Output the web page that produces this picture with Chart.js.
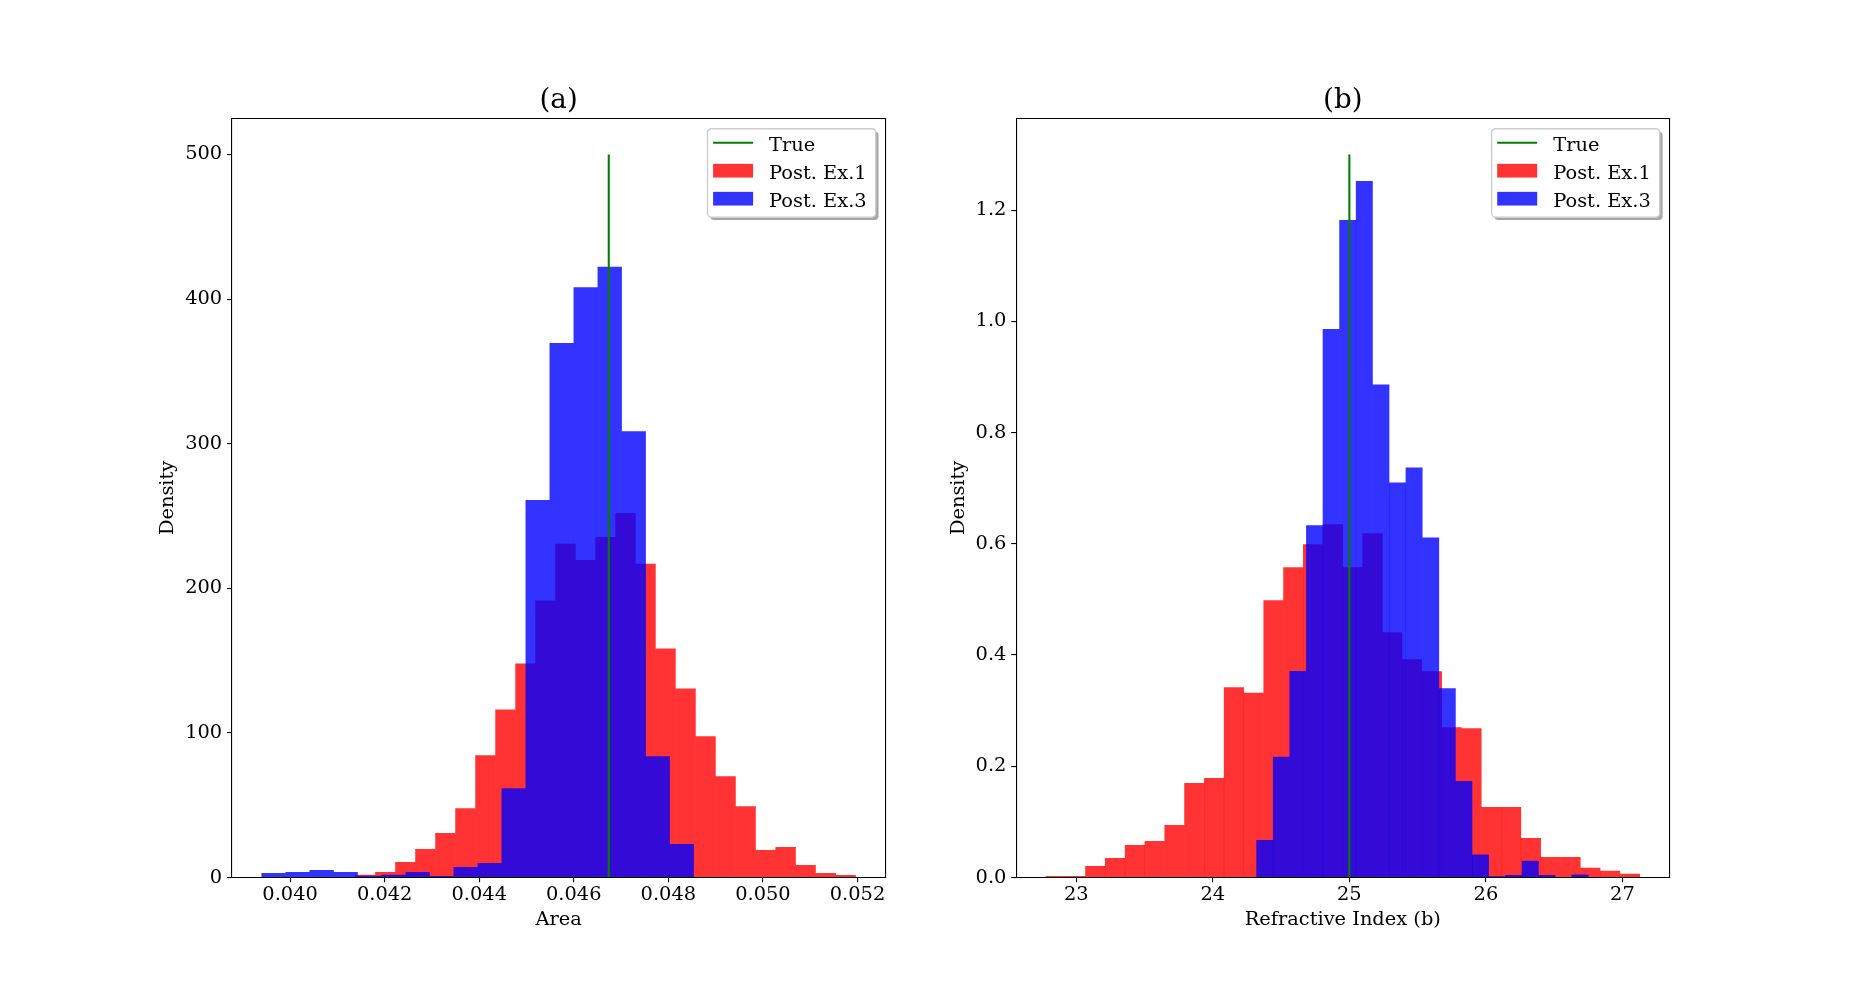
<!DOCTYPE html>
<html>
<head>
<meta charset="utf-8">
<script src="https://cdn.jsdelivr.net/npm/chart.js@4.4.0/dist/chart.umd.min.js"></script>
<style>
html, body { margin: 0; padding: 0; background: #ffffff; }
body { width: 1855px; height: 986px; position: relative; overflow: hidden; }
canvas { position: absolute; top: 0; }
#panelA { left: 0; }
#panelB { left: 900px; }
</style>
</head>
<body>
<canvas id="panelA" width="900" height="986"></canvas>
<canvas id="panelB" width="955" height="986"></canvas>
<script>
// ---------------- data ----------------
const seriesLabels = ['True', 'Post. Ex.1', 'Post. Ex.3'];
const panelTitles = ['(a)', '(b)'];
const xAxisTitles = ['Area', 'Refractive Index (b)'];
const yAxisTitle = 'Density';

// panel (a): Area
const areaTickLabels = ['0.040', '0.042', '0.044', '0.046', '0.048', '0.050', '0.052'];
const areaDensityTickLabels = ['0', '100', '200', '300', '400', '500'];
const areaEx1Edges = [0.0413800, 0.0418033, 0.0422266, 0.0426499, 0.0430732, 0.0434965, 0.0439198,
  0.0443431, 0.0447664, 0.0451897, 0.0456130, 0.0460363, 0.0464596, 0.0468829, 0.0473062,
  0.0477295, 0.0481528, 0.0485761, 0.0489994, 0.0494227, 0.0498460, 0.0502693, 0.0506926,
  0.0511159, 0.0515392, 0.0519625];
const areaEx1Density = [1.8, 3.7, 10.6, 19.6, 30.6, 47.8, 84.4, 116, 147.8, 191.5, 230.6, 219.5,
  235.4, 252, 216.8, 158.2, 130.6, 97.5, 69.9, 49.2, 18.9, 20.9, 8.5, 3.0, 1.6];
const areaEx3Edges = [0.0393970, 0.0399048, 0.0404126, 0.0409204, 0.0414282, 0.0419360, 0.0424438,
  0.0429516, 0.0434594, 0.0439672, 0.0444750, 0.0449828, 0.0454906, 0.0459984, 0.0465062,
  0.0470140, 0.0475218, 0.0480296, 0.0485374];
const areaEx3Density = [3.0, 3.7, 5.1, 3.7, 1.1, 1.8, 3.7, 0.9, 7.1, 9.9, 61.6, 260.9, 369.5,
  408, 422.3, 308.4, 83.7, 23];
const areaTrue = 0.04674;
const areaTrueTop = 500;

// panel (b): Refractive Index (b)
const refrTickLabels = ['23', '24', '25', '26', '27'];
const refrDensityTickLabels = ['0.0', '0.2', '0.4', '0.6', '0.8', '1.0', '1.2'];
const refrEx1Edges = [22.777, 22.922, 23.067, 23.212, 23.357, 23.502, 23.647, 23.792, 23.937,
  24.082, 24.227, 24.372, 24.517, 24.662, 24.807, 24.952, 25.097, 25.242, 25.387, 25.532,
  25.677, 25.822, 25.967, 26.112, 26.257, 26.402, 26.547, 26.692, 26.837, 26.982, 27.127];
const refrEx1Density = [0.0024, 0.0024, 0.0204, 0.0347, 0.058, 0.0653, 0.094, 0.1695, 0.1784,
  0.3419, 0.3317, 0.4982, 0.5575, 0.5988, 0.6347, 0.5575, 0.6186, 0.4407, 0.3922, 0.3707,
  0.270, 0.268, 0.1263, 0.1263, 0.0707, 0.0365, 0.0365, 0.0174, 0.012, 0.0066];
const refrEx3Edges = [24.3198, 24.4413, 24.5628, 24.6843, 24.8058, 24.9273, 25.0488, 25.1703,
  25.2918, 25.4133, 25.5348, 25.6563, 25.7778, 25.8993, 26.0208, 26.1423, 26.2638, 26.3853,
  26.5068, 26.6283, 26.7498];
const refrEx3Density = [0.067, 0.217, 0.371, 0.633, 0.986, 1.182, 1.252, 0.886, 0.710, 0.737,
  0.611, 0.340, 0.173, 0.041, 0.002, 0.004, 0.030, 0.004, 0, 0.005];
const refrTrue = 25.0;
const refrTrueTop = 1.3;

// ---------------- styling / layout ----------------
const FONT = "'DejaVu Serif', serif";
const FS = 19.4;
Chart.defaults.font.family = FONT;
Chart.defaults.color = '#000';

function binPoints(edges, values) {
  return values.map((v, i) => ({ x: (edges[i] + edges[i + 1]) / 2, y: v }));
}

// bar thickness = one bin width, measured through the dataset's own x scale
function binThickness(edges) {
  return ctx => {
    const chart = ctx.chart;
    const meta = chart.getDatasetMeta(ctx.datasetIndex);
    const sc = meta && meta.xScale;
    if (!sc || !isFinite(sc.getPixelForValue(edges[0]))) return undefined;
    return Math.abs(sc.getPixelForValue(edges[1]) - sc.getPixelForValue(edges[0]));
  };
}

function roundRectPath(ctx, x, y, w, h, r) {
  ctx.beginPath();
  ctx.moveTo(x + r, y);
  ctx.arcTo(x + w, y, x + w, y + h, r);
  ctx.arcTo(x + w, y + h, x, y + h, r);
  ctx.arcTo(x, y + h, x, y, r);
  ctx.arcTo(x, y, x + w, y, r);
  ctx.closePath();
}

const mplLegend = {
  id: 'mplLegend',
  afterDraw(chart) {
    const ctx = chart.ctx, ca = chart.chartArea;
    const ds = chart.data.datasets;
    ctx.save();
    ctx.font = FS + 'px ' + FONT;
    const maxW = Math.max(...ds.map(d => ctx.measureText(d.label).width));
    const right = ca.right - 9.7, top = ca.top + 10.4;
    const w = 61.6 + maxW + 9, h = 88.5, left = right - w;
    roundRectPath(ctx, left + 2.78, top + 2.78, w, h, 3.9);
    ctx.fillStyle = 'rgba(77,77,77,0.5)';
    ctx.fill();
    roundRectPath(ctx, left, top, w, h, 3.9);
    ctx.fillStyle = '#ffffff';
    ctx.fill();
    ctx.lineWidth = 1.39;
    ctx.strokeStyle = '#cccccc';
    ctx.stroke();
    ds.forEach((d, k) => {
      const cy = top + 14 + 28 * k;
      const hx = left + 5.6;
      if (d.type === 'line') {
        ctx.beginPath();
        ctx.moveTo(hx, cy);
        ctx.lineTo(hx + 40, cy);
        ctx.strokeStyle = d.borderColor;
        ctx.lineWidth = d.borderWidth;
        ctx.stroke();
      } else {
        ctx.fillStyle = d.backgroundColor;
        ctx.fillRect(hx, cy - 6.85, 40, 13.7);
      }
      ctx.fillStyle = '#000';
      ctx.textBaseline = 'alphabetic';
      ctx.textAlign = 'left';
      ctx.fillText(d.label, left + 61.6, cy + 7.9);
    });
    ctx.restore();
  }
};

function makePanel(id, d, g) {
  const fixTicks = labels => scale => { scale.ticks = labels.map(s => ({ value: parseFloat(s) })); };
  const tickFont = { family: FONT, size: FS };
  const border = { display: true, color: '#000', width: 1.1, z: 1 };
  const tickGrid = { display: true, drawOnChartArea: false, drawTicks: true, tickLength: 4.86,
                     color: '#000', tickColor: '#000', lineWidth: 1.1, offset: false };
  const barCommon = { type: 'bar', yAxisID: 'y', borderWidth: 0, barPercentage: 1,
                      categoryPercentage: 1, grouped: false, inflateAmount: 0.17 };
  return new Chart(document.getElementById(id), {
    type: 'bar',
    data: {
      datasets: [
        { type: 'line', label: seriesLabels[0], xAxisID: 'x', yAxisID: 'y',
          data: [{ x: d.trueX, y: 0 }, { x: d.trueX, y: d.trueTop }],
          borderColor: '#008000', borderWidth: 2.08, pointRadius: 0, fill: false, order: 0 },
        Object.assign({}, barCommon, { label: seriesLabels[1], xAxisID: 'x',
          data: binPoints(d.e1, d.v1), barThickness: binThickness(d.e1),
          backgroundColor: 'rgba(255,0,0,0.8)', order: 2 }),
        Object.assign({}, barCommon, { label: seriesLabels[2], xAxisID: 'x2',
          data: binPoints(d.e3, d.v3), barThickness: binThickness(d.e3),
          backgroundColor: 'rgba(0,0,255,0.8)', order: 1 })
      ]
    },
    options: {
      responsive: false, animation: false, devicePixelRatio: 1, events: [],
      layout: { padding: { left: 0, top: 0, right: g.padRight, bottom: 8.5 } },
      plugins: {
        legend: { display: false },
        tooltip: { enabled: false },
        title: { display: true, text: d.title, fullSize: false, color: '#000',
                 font: { family: FONT, size: 27.8, weight: 'normal' },
                 padding: { top: 83.7, bottom: 1.24 } }
      },
      scales: {
        x: { type: 'linear', position: 'bottom', min: d.xmin, max: d.xmax, offset: false,
             afterBuildTicks: fixTicks(d.xTicks), afterFit: s => { s.height = 100; },
             ticks: { callback: (v, i) => d.xTicks[i], font: tickFont, color: '#000', padding: 1.2,
                      maxRotation: 0, autoSkip: false },
             grid: tickGrid, border: border,
             title: { display: true, text: d.xTitle, color: '#000', font: { family: FONT, size: FS },
                      padding: { top: 0, bottom: 46 } } },
        x2: { type: 'linear', position: 'top', min: d.xmin, max: d.xmax, offset: false,
              afterBuildTicks: fixTicks(d.xTicks), afterFit: s => { s.height = 0; },
              ticks: { display: false }, grid: { display: false }, border: border },
        y: { type: 'linear', position: 'left', min: 0, max: d.ymax,
             afterBuildTicks: fixTicks(d.yTicks), afterFit: s => { s.width = g.left; },
             ticks: { callback: (v, i) => d.yTicks[i], font: tickFont, color: '#000', padding: 4.86 },
             grid: tickGrid, border: border,
             title: { display: true, text: yAxisTitle, color: '#000', font: { family: FONT, size: FS },
                      padding: { top: g.yTitlePad, bottom: 0 } } },
        y2: { type: 'linear', position: 'right', min: 0, max: d.ymax,
              afterFit: s => { s.width = 0; },
              ticks: { display: false }, grid: { display: false }, border: border }
      }
    },
    plugins: [mplLegend]
  });
}

makePanel('panelA', {
  title: panelTitles[0], xTitle: xAxisTitles[0],
  xTicks: areaTickLabels, yTicks: areaDensityTickLabels,
  e1: areaEx1Edges, v1: areaEx1Density, e3: areaEx3Edges, v3: areaEx3Density,
  trueX: areaTrue, trueTop: areaTrueTop,
  xmin: 0.038769, xmax: 0.052591, ymax: 525
}, { left: 231.9, padRight: 14.6, yTitlePad: 156.7 });

makePanel('panelB', {
  title: panelTitles[1], xTitle: xAxisTitles[1],
  xTicks: refrTickLabels, yTicks: refrDensityTickLabels,
  e1: refrEx1Edges, v1: refrEx1Density, e3: refrEx3Edges, v3: refrEx3Density,
  trueX: refrTrue, trueTop: refrTrueTop,
  xmin: 22.5595, xmax: 27.3445, ymax: 1.365
}, { left: 116.1, padRight: 185.5, yTitlePad: 47.2 });
</script>
</body>
</html>
